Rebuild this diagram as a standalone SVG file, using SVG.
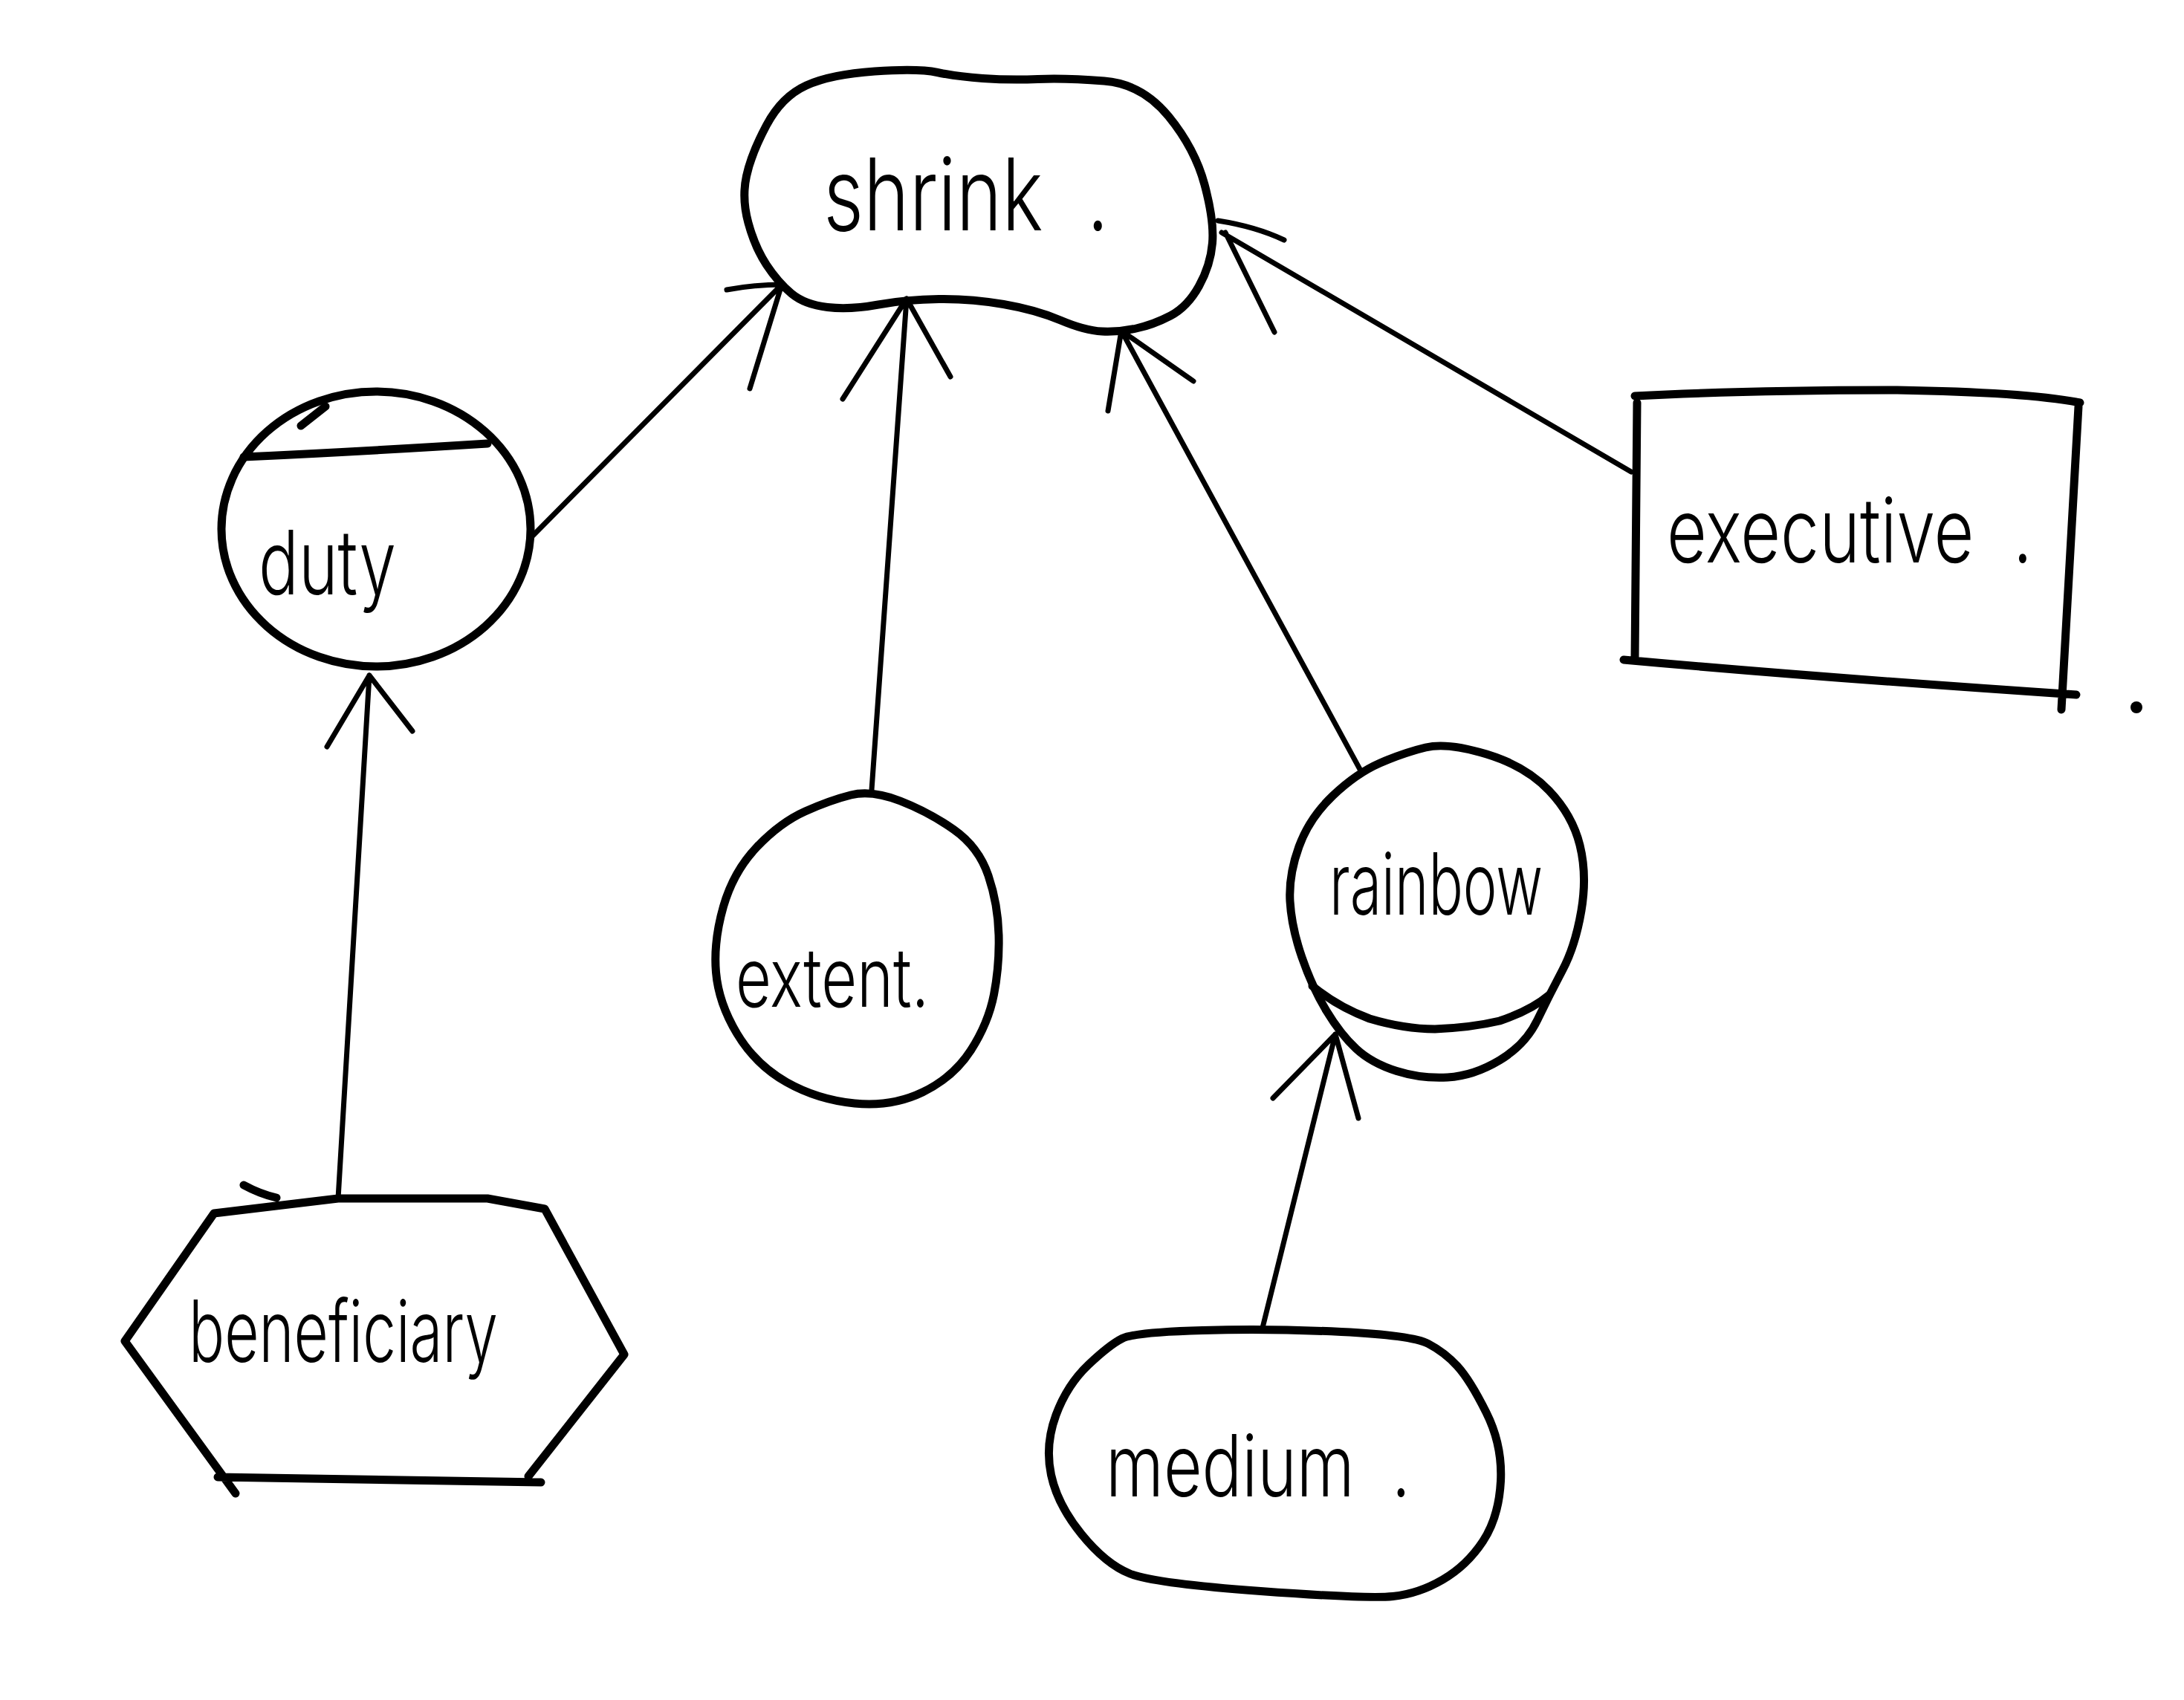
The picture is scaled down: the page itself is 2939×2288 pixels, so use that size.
<svg xmlns="http://www.w3.org/2000/svg" width="2939" height="2288" viewBox="0 0 2939 2288">
<style>
.shape{fill:none;stroke:#000;stroke-width:11;stroke-linecap:round;stroke-linejoin:round}
.conn path{fill:none;stroke:#000;stroke-width:7;stroke-linecap:round;stroke-linejoin:round}
.lbl{font-family:Inter,"Liberation Sans","DejaVu Sans",sans-serif;font-weight:300;fill:#000;white-space:pre}
</style>
<rect width="2939" height="2288" fill="#fff"/>
<g id="connectors" class="conn">
  <path d="M715,723 L1052,383 M978,390 Q1015,383 1052,383 M1009,523 L1052,383"/>
  <path d="M1173,1063 L1220,402 M1134,537 L1220,402 M1279,507 L1220,402"/>
  <path d="M1832,1039 L1509,445 M1491,553 L1509,445 M1606,513 L1509,445"/>
  <path d="M2195,635 L1644,313 M1639,297 Q1690,305 1728,323 M1649,313 L1715,447"/>
  <path d="M455,1613 L497,909 M440,1005 L497,909 M555,984 L497,909"/>
  <path d="M1699,1787 L1797,1392 M1713,1478 L1797,1392 M1828,1505 L1797,1392"/>
</g>
<g id="node-shrink">
  <path class="shape" d="M1085,115 Q1118,100 1177,96 Q1236,92 1261.5,97.5 Q1287,103 1322.5,105.5 Q1358,108 1396.5,106.5 Q1435,105 1486,109 Q1537,113 1572.5,156.5 Q1608,200 1621,248.5 Q1634,297 1631.5,327 Q1629,357 1613.5,385 Q1598,413 1575,425 Q1552,437 1529,442 Q1506,447 1483,446 Q1460,445 1427,431 Q1394,417 1350.5,409.5 Q1307,402 1263.5,402.5 Q1220,403 1182,410 Q1144,417 1113.5,413.5 Q1083,410 1065,395 Q1047,380 1031.5,356.5 Q1016,333 1007,300 Q998,267 1004.5,237 Q1011,207 1031.5,168.5 Q1052,130 1085,115 Z"/>
  <text class="lbl" x="1108" y="310" font-size="135" textLength="384" lengthAdjust="spacingAndGlyphs">shrink  .</text>
</g>
<g id="node-duty">
  <ellipse class="shape" cx="506" cy="712" rx="208" ry="185"/>
  <path class="shape" d="M328,615 Q480,608 656,597 M405,573 L438,547"/>
  <text class="lbl" x="348" y="800" font-size="120" textLength="185" lengthAdjust="spacingAndGlyphs">duty</text>
</g>
<g id="node-extent">
  <path class="shape" d="M1145,1070 Q1173,1063 1211.5,1078 Q1250,1093 1283.5,1116.5 Q1317,1140 1330,1178.5 Q1343,1217 1344,1258.5 Q1345,1300 1337.5,1338.5 Q1330,1377 1306.5,1413.5 Q1283,1450 1241.5,1470 Q1200,1490 1150,1485 Q1100,1480 1058.5,1456.5 Q1017,1433 992,1391.5 Q967,1350 963.5,1308.5 Q960,1267 973.5,1220 Q987,1173 1018.5,1140 Q1050,1107 1083.5,1092 Q1117,1077 1145,1070 Z"/>
  <text class="lbl" x="990" y="1355" font-size="110" textLength="260" lengthAdjust="spacingAndGlyphs">extent.</text>
</g>
<g id="node-rainbow">
  <path class="shape" d="M1918.5,1006 Q1948,999 2000.5,1015 Q2053,1031 2084.5,1064 Q2116,1097 2126,1137.5 Q2136,1178 2128,1225.5 Q2120,1273 2102.5,1306 Q2085,1339 2069,1372.5 Q2053,1406 2018,1427 Q1983,1448 1948,1450 Q1913,1452 1879.5,1441.5 Q1846,1431 1825,1411.5 Q1804,1392 1785,1360.5 Q1766,1329 1752,1288.5 Q1738,1248 1736,1213 Q1734,1178 1748,1139.5 Q1762,1101 1793.5,1071 Q1825,1041 1857,1027 Q1889,1013 1918.5,1006 Z"/>
  <path class="shape" d="M1766,1327 Q1800,1355 1843,1371 Q1890,1385 1931,1385 Q1980,1383 2018,1374 Q2060,1360 2085,1339"/>
  <text class="lbl" x="1789" y="1231" font-size="115" textLength="287" lengthAdjust="spacingAndGlyphs">rainbow</text>
</g>
<g id="node-executive">
  <path class="shape" d="M2200,533 Q2350,525 2553,525 Q2729,528 2799,542 M2203,542 L2200,888 M2185,888 Q2450,912 2794,935 M2797,547 L2774,955"/>
  <circle cx="2875" cy="952" r="8" fill="#000"/>
  <text class="lbl" x="2243" y="757" font-size="120" textLength="492" lengthAdjust="spacingAndGlyphs">executive  .</text>
</g>
<g id="node-beneficiary">
  <path class="shape" d="M288,1633 L455,1613 L656,1613 L733,1627 L840,1823 L711,1987 M728,1995 L293,1988 M317,2010 L168,1805 L288,1633 M328,1595 Q350,1607 372,1612"/>
  <text class="lbl" x="254" y="1833" font-size="115" textLength="416" lengthAdjust="spacingAndGlyphs">beneficiary</text>
</g>
<g id="node-medium">
  <path class="shape" d="M1618.5,1790.5 Q1710,1788 1805,1792.5 Q1900,1797 1922,1808.5 Q1944,1820 1961,1838.5 Q1978,1857 2000,1901 Q2022,1945 2019.5,1993.5 Q2017,2042 1995.5,2074.5 Q1974,2107 1941.5,2126 Q1909,2145 1874.5,2148.5 Q1840,2152 1696.5,2141.5 Q1553,2131 1520.5,2118 Q1488,2105 1455.5,2065 Q1423,2025 1414.5,1985 Q1406,1945 1421,1904.5 Q1436,1864 1464.5,1837 Q1493,1810 1510,1801.5 Q1527,1793 1618.5,1790.5 Z"/>
  <text class="lbl" x="1488" y="2014" font-size="115" textLength="410" lengthAdjust="spacingAndGlyphs">medium  .</text>
</g>
</svg>
